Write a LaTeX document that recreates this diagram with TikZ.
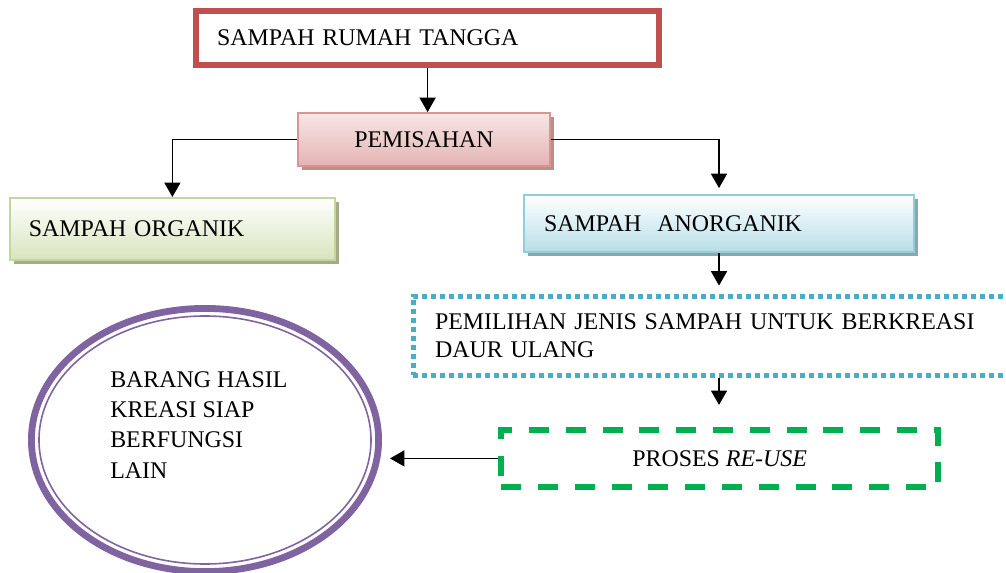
\documentclass[tikz,border=0pt]{standalone}
\usepackage{fontspec}
\setmainfont{Liberation Serif}
\usetikzlibrary{positioning, shapes.geometric, arrows.meta, shadows}
\definecolor{rumahred}{HTML}{C0504D}
\definecolor{pisahline}{HTML}{D99594}
\definecolor{pisahtop}{HTML}{F7E6E6}
\definecolor{pisahbot}{HTML}{E4B4B3}
\definecolor{pisahshade}{HTML}{B98F8E}
\definecolor{orgline}{HTML}{C3D69B}
\definecolor{orgbot}{HTML}{D7E4BD}
\definecolor{orgshade}{HTML}{A4AB88}
\definecolor{anorgline}{HTML}{92CDDC}
\definecolor{anorgbot}{HTML}{B7DEE8}
\definecolor{anorgshade}{HTML}{8CA6AE}
\definecolor{pilihblue}{HTML}{4BACC6}
\definecolor{reusegreen}{HTML}{00B050}
\definecolor{hasilpurple}{HTML}{8064A2}
\tikzset{
    txt/.style={font=\fontsize{17}{20}\selectfont, inner ysep=0pt},
    topbox/.style={txt, rectangle, draw=rumahred, line width=0.15cm, minimum width=11.575cm, minimum height=1.35cm, text width=10.525cm, inner xsep=0.525cm, align=left},
    pisahbox/.style={txt, rectangle, draw=pisahline, line width=0.05cm, top color=pisahtop, bottom color=pisahbot, minimum width=6.3cm, minimum height=1.325cm, align=center, drop shadow={shadow xshift=0.1cm, shadow yshift=-0.1cm, opacity=1, fill=pisahshade}},
    orgbox/.style={txt, rectangle, draw=orgline, line width=0.05cm, top color=white, bottom color=orgbot, minimum width=8.125cm, minimum height=1.55cm, text width=7.175cm, inner xsep=0.475cm, align=left, drop shadow={shadow xshift=0.1cm, shadow yshift=-0.1cm, opacity=1, fill=orgshade}},
    anorgbox/.style={txt, rectangle, draw=anorgline, line width=0.05cm, top color=white, bottom color=anorgbot, minimum width=9.75cm, minimum height=1.425cm, text width=8.75cm, inner xsep=0.5cm, align=left, drop shadow={shadow xshift=0.1cm, shadow yshift=-0.1cm, opacity=1, fill=anorgshade}},
    dotbox/.style={txt, rectangle, draw=pilihblue, line width=0.125cm, dash pattern=on 0.125cm off 0.1cm, minimum width=15.05cm, minimum height=1.975cm, text width=13.95cm, inner xsep=0.55cm, align=left},
    dashbox/.style={txt, rectangle, draw=reusegreen, line width=0.15cm, dash pattern=on 0.5cm off 0.42cm, minimum width=10.925cm, minimum height=1.425cm, align=center},
    ringbox/.style={ellipse, draw=hasilpurple, line width=0.17cm, minimum width=8.68cm, minimum height=6.58cm, inner sep=0pt},
    flow/.style={-{Triangle[width=0.4cm, length=0.36cm]}, line width=0.04cm, black}
}
\begin{document}
\begin{tikzpicture}
\useasboundingbox (0,0) rectangle (25.15,-14.325);

% Boxes
\node[topbox] (rumah) at (10.69,-0.95) {SAMPAH RUMAH TANGGA};
\node[pisahbox] (pisah) at (10.6,-3.49) {PEMISAHAN};
\node[orgbox] (organik) at (4.31,-5.725) {SAMPAH ORGANIK};
\node[anorgbox] (anorganik) at (17.975,-5.59) {SAMPAH\ \ ANORGANIK};
\node[dotbox] (pilih) at (17.85,-8.39) {PEMILIHAN JENIS SAMPAH UNTUK BERKREASI\\DAUR ULANG};
\node[dashbox] (reuse) at (17.99,-11.46) {PROSES \textit{RE-USE}};

% Result ellipse with thin inner ring
\node[ringbox] (hasil) at (5.125,-11.0) {};
\draw[hasilpurple, line width=0.04cm] (hasil.center) ellipse [x radius=4.15cm, y radius=3.1cm];
\node[txt, align=left, anchor=west, inner sep=0pt] (hasiltext) at (2.75,-10.62) {BARANG HASIL\\[1.5pt]KREASI SIAP\\[1.5pt]BERFUNGSI\\[1.5pt]LAIN};

% Connectors
\draw[flow] (rumah.south) -- (rumah.south |- pisah.north);
\draw[flow] (pisah.west) -| (organik.north);
\draw[flow, shorten >=0.15cm] (pisah.east) -| (anorganik.north);
\draw[flow, shorten >=0.2cm] (anorganik.south) -- (anorganik.south |- pilih.north);
\draw[flow, shorten >=0.55cm] (anorganik.south |- pilih.south) -- (anorganik.south |- reuse.north);
\draw[flow, shorten >=0.2cm] (reuse.west) -- (reuse.west -| hasil.east);
\end{tikzpicture}
\end{document}
